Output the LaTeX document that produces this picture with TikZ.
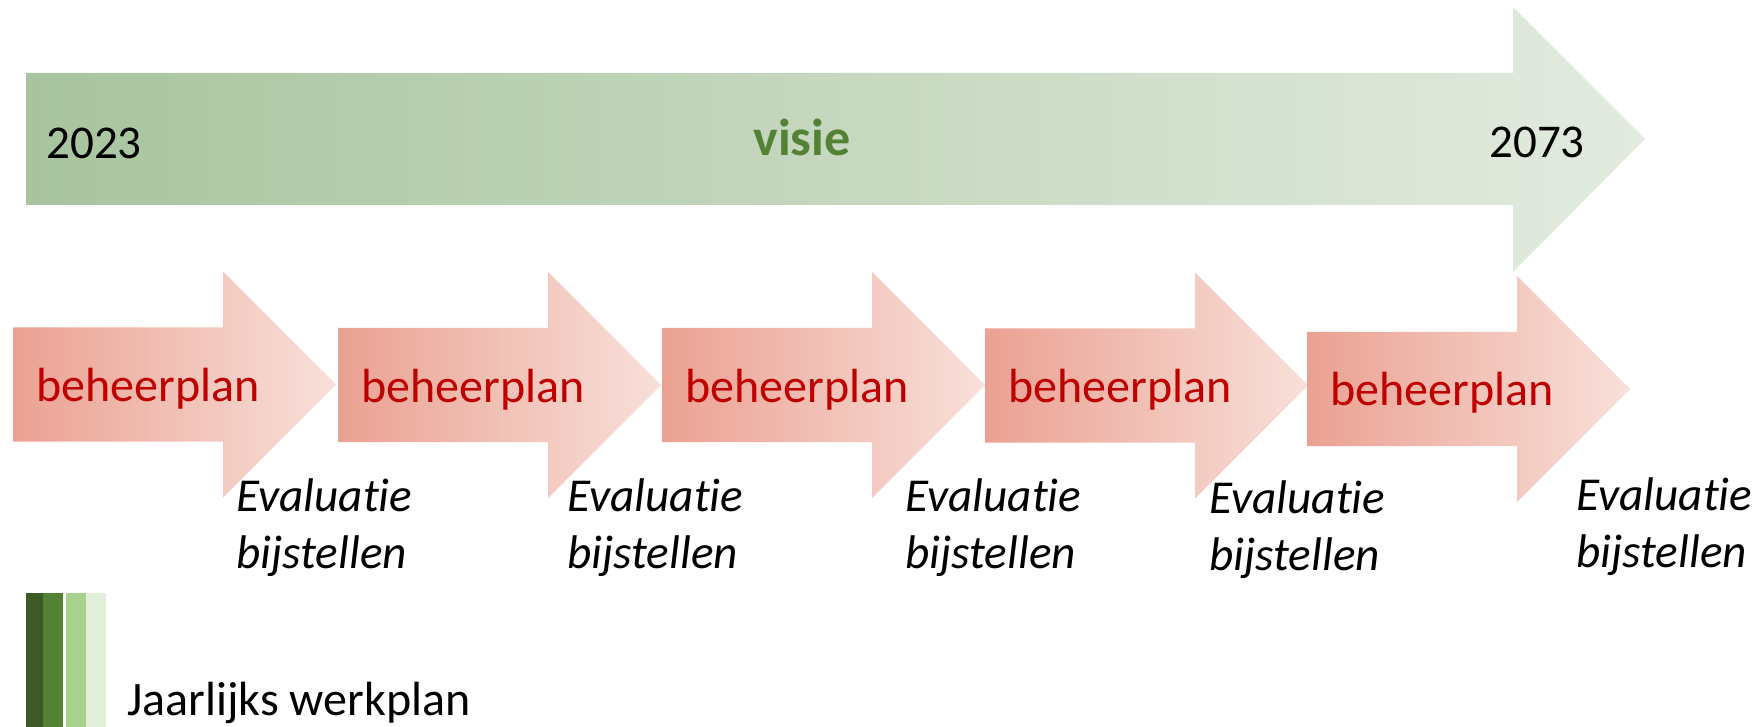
\documentclass[tikz,border=0pt]{standalone}
\usepackage{fontspec}
\setmainfont[Ligatures=NoCommon]{Carlito}
\usepackage{tikz}

\definecolor{visiegreen}{HTML}{548235}
\definecolor{plangreenA}{HTML}{A8C49E}
\definecolor{plangreenB}{HTML}{E3EBE0}
\definecolor{planredA}{HTML}{EBA192}
\definecolor{planredB}{HTML}{F8E0DA}
\definecolor{plantext}{HTML}{C00000}

\begin{document}
\begin{tikzpicture}[x=0.5pt,y=-0.5pt,
    every node/.style={inner sep=0pt,anchor=base west},
    jaar/.style={font=\fontsize{23.5}{28}\selectfont},
    visietext/.style={font=\fontsize{26}{31}\selectfont\bfseries,text=visiegreen},
    plan/.style={font=\fontsize{24}{28}\selectfont,text=plantext},
    evalu/.style={font=\fontsize{23.6}{28}\selectfont\itshape},
    greenarrow/.style={shading=axis,left color=plangreenA,right color=plangreenB},
    redarrow/.style={shading=axis,left color=planredA,right color=planredB}]
	\useasboundingbox (0,0) rectangle (1763,727);
	% visie
	\path[greenarrow] (26,73) -- (1513,73) -- (1513,7) -- (1645,139) -- (1513,272) -- (1513,205) -- (26,205) -- cycle;
	\node[jaar] (start) at (46,159) {2023};
	\node[visietext] (visie) at (753,156) {visie};
	\node[jaar] (eind) at (1489,158) {2073};
	% beheerplannen
	\foreach \x/\y/\n in {13/384.5/1,338/385/2,662/385/3,985/385.5/4,1307/389/5}{
		\path[redarrow] (\x,\y) ++(0,-57) -- ++(210,0) -- ++(0,-56) -- ++(113,113) -- ++(-113,113) -- ++(0,-56) -- ++(-210,0) -- cycle;
		\node[plan] (plan\n) at (\x+23,\y+17) {beheerplan};
	}
	% evaluatie
	\foreach \x/\y/\n in {236/511/1,567/511/2,905/511/3,1209/513/4,1576/510/5}{
		\node[evalu] (eval\n) at (\x,\y) {Evaluatie};
		\node[evalu] (bij\n) at (\x,\y+57) {bijstellen};
	}
	% jaarlijks werkplan
	\fill[fill={rgb,255:red,59;green,90;blue,36}] (26,593) rectangle (43,727);
	\fill[visiegreen] (43,593) rectangle (63,727);
	\fill[fill={rgb,255:red,169;green,209;blue,142}] (66,593) rectangle (86,727);
	\fill[fill={rgb,255:red,226;green,239;blue,217}] (86,593) rectangle (106,727);
	\node[jaar,font=\fontsize{24}{28}\selectfont] (werkplan) at (127,715) {Jaarlijks werkplan};
\end{tikzpicture}
\end{document}
